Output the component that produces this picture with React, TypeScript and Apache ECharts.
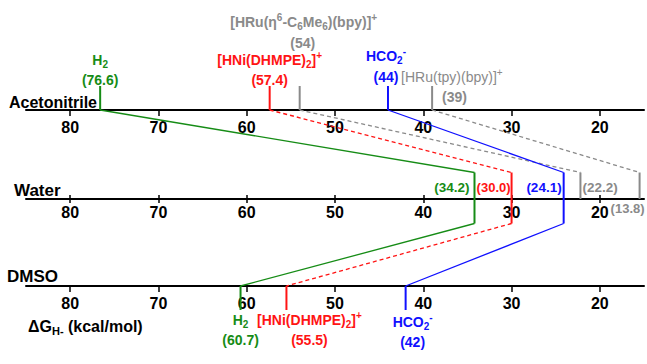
import React, { useEffect, useRef } from "react";
import * as echarts from "echarts";

// ---------------- data ----------------
const solvents = ["Acetonitrile", "Water", "DMSO"];
const tickValues = [80, 70, 60, 50, 40, 30, 20];
const speciesLabels = [
  "{n|H}{sub|2}",
  "{n|[HNi(DHMPE)}{sub|2}{n|]}{sup|+}",
  "{n|[HRu(η}{sup|6}{n|-C}{sub|6}{n|Me}{sub|6}{n|)(bpy)]}{sup|+}",
  "{n|HCO}{sub|2}{sup|-}",
  "{n|[HRu(tpy)(bpy)]}{sup|+}",
];
const acetonitrileValues = [76.6, 57.4, 54, 44, 39];
const waterValues = [34.2, 30.0, 22.2, 24.1, 13.8];
const dmsoValues: (number | null)[] = [60.7, 55.5, null, 42, null];
const speciesColors = ["#168c16", "#ff1414", "#8a8a8a", "#1010ff", "#8a8a8a"];
const dashedLinks = [false, true, true, false, true];
const xAxisTitle = "{b|ΔG}{s|H-}{b| (kcal/mol)}";

// ---------------- layout ----------------
const FONT = "Liberation Sans, Arial, Helvetica, sans-serif";
const AXIS_MIN = 15;
const AXIS_MAX = 85;
const VISIBLE_MIN = 15.5;
const GRID_LEFT = 26;
const GRID_RIGHT = 3;
const LEVEL = [110, 199, 286];
const MECN_TOP = 86;
const WATER_TOP = 172.5;
const WATER_BOTTOM = 223.5;
const DMSO_BOTTOM = 310;
const LABEL_MARGINS = [9.5, 5.5, 9.5];

const clampX = (v: number) => Math.max(v, VISIBLE_MIN);

const makeRich = (color: string, size: number, weight: string) => ({
  n: { fill: color, fontSize: size, fontWeight: weight, fontFamily: FONT, lineHeight: 19 },
  sub: { fill: color, fontSize: 10, fontWeight: weight, fontFamily: FONT, lineHeight: 10, verticalAlign: "bottom" },
  sup: { fill: color, fontSize: 10, fontWeight: weight, fontFamily: FONT, lineHeight: 10, verticalAlign: "top" },
});

function buildOption() {
  const series: any[] = [];
  const seg = (pts: number[][], color: string, width: number, dashed: boolean) =>
    series.push({
      type: "line",
      xAxisIndex: 0,
      yAxisIndex: 0,
      data: pts,
      symbol: "none",
      silent: true,
      lineStyle: { color, width, type: dashed ? [4, 3] : "solid", cap: "butt" },
      z: 4,
    });

  speciesLabels.forEach((_, i) => {
    const color = speciesColors[i];
    const a = clampX(acetonitrileValues[i]);
    const w = clampX(waterValues[i]);
    const dv = dmsoValues[i];
    const d = dv == null ? null : clampX(dv);
    seg([[a, MECN_TOP], [a, LEVEL[0]]], color, 2, false);
    seg([[w, WATER_TOP], [w, d == null ? LEVEL[1] : WATER_BOTTOM]], color, 2, false);
    if (d != null) seg([[d, LEVEL[2]], [d, DMSO_BOTTOM]], color, 2, false);
    seg([[a, LEVEL[0]], [w, WATER_TOP]], color, 1.3, dashedLinks[i]);
    if (d != null) seg([[w, WATER_BOTTOM], [d, LEVEL[2]]], color, 1.3, dashedLinks[i]);
  });

  const gridBase = { left: GRID_LEFT, right: GRID_RIGHT, containLabel: false, outerBoundsMode: "none" };
  const grid: any[] = [{ ...gridBase, top: 0, bottom: 0 }];
  LEVEL.forEach((y) => grid.push({ ...gridBase, top: y - 10, height: 10 }));

  const xAxis: any[] = [
    { gridIndex: 0, type: "value", min: AXIS_MIN, max: AXIS_MAX, inverse: true, show: false },
  ];
  LEVEL.forEach((_, k) => {
    xAxis.push({
      gridIndex: k + 1,
      type: "value",
      position: "bottom",
      min: AXIS_MIN,
      max: AXIS_MAX,
      inverse: true,
      axisLine: { show: true, onZero: false, lineStyle: { color: "#000", width: 2 } },
      axisTick: {
        show: true,
        customValues: tickValues,
        length: k === 1 ? 4 : 6,
        lineStyle: { color: "#000", width: 1.5 },
      },
      axisLabel: {
        show: true,
        customValues: tickValues,
        margin: LABEL_MARGINS[k],
        color: "#000",
        fontSize: 16,
        fontWeight: "bold",
        fontFamily: FONT,
      },
      splitLine: { show: false },
    });
  });
  xAxis.push({
    gridIndex: 2,
    type: "value",
    position: "bottom",
    min: AXIS_MIN,
    max: AXIS_MAX,
    inverse: true,
    axisLine: { show: false, onZero: false },
    axisTick: { show: true, inside: true, customValues: tickValues, length: 4, lineStyle: { color: "#000", width: 1.5 } },
    axisLabel: { show: false },
    splitLine: { show: false },
  });

  const yAxis: any[] = [{ gridIndex: 0, type: "value", min: 0, max: 364, inverse: true, show: false }];
  LEVEL.forEach((_, k) => yAxis.push({ gridIndex: k + 1, type: "value", min: 0, max: 1, show: false }));

  return {
    animation: false,
    backgroundColor: "#fff",
    textStyle: { fontFamily: FONT },
    grid,
    xAxis,
    yAxis,
    series,
  };
}

function buildGraphic(chart: echarts.ECharts) {
  const px = (v: number) => chart.convertToPixel({ xAxisIndex: 0 } as any, clampX(v)) as unknown as number;
  const graphic: any[] = [];
  const titleY = [102, 190, 276];
  const titleX = [9, 14, 7];
  const titleSize = [16, 17, 17];
  solvents.forEach((s, k) =>
    graphic.push({
      type: "text",
      x: titleX[k],
      y: titleY[k],
      silent: true,
      style: {
        text: s,
        fill: "#000",
        fontSize: titleSize[k],
        fontWeight: "bold",
        fontFamily: FONT,
        align: "left",
        verticalAlign: "middle",
      },
    })
  );
  graphic.push({
    type: "text",
    x: 28,
    y: 326,
    silent: true,
    style: {
      text: xAxisTitle,
      fill: "#000",
      align: "left",
      verticalAlign: "middle",
      rich: {
        b: { fill: "#000", fontSize: 16, fontWeight: "bold", fontFamily: FONT, lineHeight: 20 },
        s: { fill: "#000", fontSize: 11, fontWeight: "bold", fontFamily: FONT, lineHeight: 11, verticalAlign: "bottom" },
      },
    },
  });

  const addLabel = (
    v: number,
    y: number,
    text: string,
    color: string,
    size: number,
    weight: string,
    align: string,
    dx: number
  ) =>
    graphic.push({
      type: "text",
      x: px(v) + dx,
      y,
      silent: true,
      z: 10,
      style: { text, align, verticalAlign: "middle", fill: color, rich: makeRich(color, size, weight) },
    });

  const mecnVal = (i: number) => "{n|(" + String(acetonitrileValues[i]) + ")}";
  addLabel(acetonitrileValues[0], 60, speciesLabels[0], speciesColors[0], 14, "bold", "center", 0);
  addLabel(acetonitrileValues[0], 80, mecnVal(0), speciesColors[0], 14, "bold", "center", 0);
  addLabel(acetonitrileValues[1], 60, speciesLabels[1], speciesColors[1], 14, "bold", "center", 0);
  addLabel(acetonitrileValues[1], 80, mecnVal(1), speciesColors[1], 14, "bold", "center", 0);
  addLabel(acetonitrileValues[2], 22, speciesLabels[2], speciesColors[2], 14, "bold", "center", 4);
  addLabel(acetonitrileValues[2], 43, mecnVal(2), speciesColors[2], 14, "bold", "center", 3);
  addLabel(acetonitrileValues[3], 56, speciesLabels[3], speciesColors[3], 14, "bold", "center", -2);
  addLabel(acetonitrileValues[3], 77, mecnVal(3), speciesColors[3], 14, "bold", "center", -2);
  addLabel(acetonitrileValues[4], 77, speciesLabels[4], speciesColors[4], 14, "normal", "left", -31);
  addLabel(acetonitrileValues[4], 97, mecnVal(4), speciesColors[4], 14, "bold", "left", 10);

  const waterVal = (i: number) => "{n|(" + waterValues[i].toFixed(1) + ")}";
  addLabel(waterValues[0], 187, waterVal(0), speciesColors[0], 13.5, "bold", "right", -5);
  addLabel(waterValues[1], 187, waterVal(1), speciesColors[1], 13, "bold", "right", -1);
  addLabel(waterValues[3], 187, waterVal(3), speciesColors[3], 13.5, "bold", "right", -2);
  addLabel(waterValues[2], 187, waterVal(2), speciesColors[2], 13.5, "bold", "left", 2);
  addLabel(waterValues[4], 208, waterVal(4), speciesColors[4], 13, "bold", "right", 5);

  const dmsoVal = (i: number) => "{n|(" + String(dmsoValues[i]) + ")}";
  addLabel(dmsoValues[0] as number, 320, speciesLabels[0], speciesColors[0], 14, "bold", "center", 0);
  addLabel(dmsoValues[0] as number, 340, dmsoVal(0), speciesColors[0], 14, "bold", "center", 0);
  addLabel(dmsoValues[1] as number, 320, speciesLabels[1], speciesColors[1], 14, "bold", "center", 23);
  addLabel(dmsoValues[1] as number, 340, dmsoVal(1), speciesColors[1], 14, "bold", "center", 23);
  addLabel(dmsoValues[3] as number, 322, speciesLabels[3], speciesColors[3], 14, "bold", "center", 7);
  addLabel(dmsoValues[3] as number, 342, dmsoVal(3), speciesColors[3], 14, "bold", "center", 7);

  return graphic;
}

export default function App() {
  const ref = useRef<HTMLDivElement>(null);
  useEffect(() => {
    if (!ref.current) return;
    const chart = echarts.init(ref.current, null, { renderer: "svg" });
    chart.setOption(buildOption() as any);
    chart.setOption({ graphic: buildGraphic(chart) } as any);
    return () => chart.dispose();
  }, []);
  return (
    <div
      ref={ref}
      style={{ position: "fixed", left: 0, top: 0, width: 647, height: 364, background: "#fff" }}
    />
  );
}
